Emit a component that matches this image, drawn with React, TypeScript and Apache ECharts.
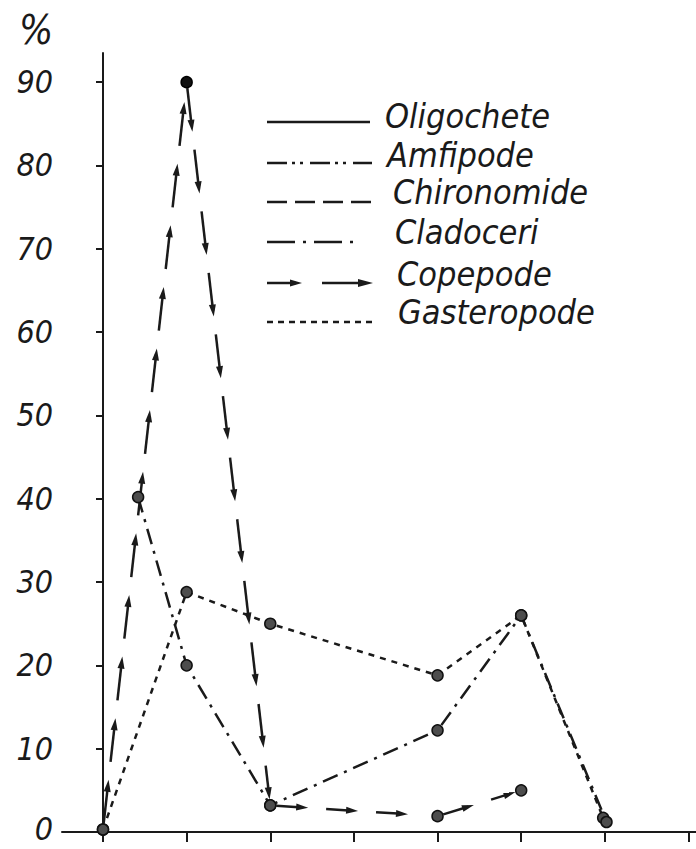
import React, { useEffect, useRef } from "react";
import * as echarts from "echarts";

const yTicks = [0, 10, 20, 30, 40, 50, 60, 70, 80, 90];
const xTicks = [0, 1, 2, 3, 4, 5, 6, 7];
const legendNames = ["Oligochete", "Amfipode", "Chironomide", "Cladoceri", "Copepode", "Gasteropode"];

const copepodeX = [0, 1, 2, 4, 5];
const copepodeY = [0.3, 90, 3.2, 1.9, 5.0];
const gasteropodeX = [0, 1, 2, 4, 5, 5.98];
const gasteropodeY = [0.3, 28.8, 25, 18.8, 26, 1.7];
const cladoceriX = [0.42, 1, 2, 4, 5, 6.02];
const cladoceriY = [40.2, 20, 3.2, 12.2, 26, 1.2];

const FONT = "'DejaVu Sans Condensed', 'Liberation Sans Narrow', 'DejaVu Sans', sans-serif";
const INK = "#1a1a1a";

const pairs = (xs: number[], ys: number[]) => xs.map((x, i) => [x, ys[i]]);

export default function App() {
  const ref = useRef<HTMLDivElement>(null);
  useEffect(() => {
    if (!ref.current) return;
    const chart = echarts.init(ref.current, null, { renderer: "svg" });

    const copData = pairs(copepodeX, copepodeY).map((p) =>
      p[1] === 90 ? { value: p, itemStyle: { color: "#111", borderColor: "#000" } } : { value: p }
    );

    const legendY = [122, 163, 202, 242, 283, 322];
    const legendTextX = [385, 387, 393, 395, 397, 398];
    const legendTextY = [116, 155, 192, 232, 274, 312];
    const legendDash: any[] = [null, [20, 5, 3, 5, 3, 7], [20, 8], [28, 8, 3, 8], null, [6, 5]];
    const legendEnd = [370, 372, 375, 360, 372, 375];

    const graphics: any[] = [
      {
        type: "text",
        x: 36,
        y: 30,
        style: {
          text: "%",
          fill: INK,
          fontSize: 40,
          fontFamily: FONT,
          fontStyle: "italic",
          align: "center",
          verticalAlign: "middle",
        },
      },
    ];
    legendNames.forEach((name, i) => {
      if (name === "Copepode") {
        const y = legendY[i];
        graphics.push({ type: "line", shape: { x1: 267, y1: y, x2: 296, y2: y }, style: { stroke: INK, lineWidth: 2.5 } });
        graphics.push({ type: "polygon", shape: { points: [[302, y], [290, y - 3.5], [290, y + 3.5]] }, style: { fill: INK } });
        graphics.push({ type: "line", shape: { x1: 322, y1: y, x2: 362, y2: y }, style: { stroke: INK, lineWidth: 2.5 } });
        graphics.push({ type: "polygon", shape: { points: [[373, y], [358, y - 4], [358, y + 4]] }, style: { fill: INK } });
      } else {
        graphics.push({
          type: "line",
          shape: { x1: 267, y1: legendY[i], x2: legendEnd[i], y2: legendY[i] },
          style: { stroke: INK, lineWidth: 2.5, lineDash: legendDash[i] || undefined, lineCap: "butt" },
        });
      }
      graphics.push({
        type: "text",
        x: legendTextX[i],
        y: legendTextY[i],
        style: {
          text: name,
          fill: INK,
          fontSize: 34,
          fontFamily: FONT,
          fontStyle: "italic",
          align: "left",
          verticalAlign: "middle",
        },
      });
    });

    const markerStyle = { color: "#4d4d4d", borderColor: "#111", borderWidth: 1.5, opacity: 1 };

    chart.setOption({
      animation: false,
      grid: { left: 62, right: 0, top: 53, bottom: 17, containLabel: false, outerBoundsMode: "none" },
      xAxis: {
        type: "value",
        min: -0.49,
        max: 7.09,
        axisLine: { show: true, lineStyle: { color: INK, width: 2 } },
        axisTick: { show: true, customValues: xTicks, length: 10, lineStyle: { color: INK, width: 2 } },
        axisLabel: { show: false },
        splitLine: { show: false },
      },
      yAxis: {
        type: "value",
        min: 0,
        max: 93.5,
        axisLine: { show: true, lineStyle: { color: INK, width: 2 } },
        axisTick: { show: true, customValues: yTicks, length: 7, lineStyle: { color: INK, width: 2 } },
        axisLabel: {
          show: true,
          customValues: yTicks,
          margin: 9,
          color: INK,
          fontSize: 32,
          lineHeight: 30,
          fontFamily: FONT,
          fontStyle: "italic",
          formatter: (v: number) => (v === 0 ? "{z|0}" : String(v)),
          rich: {
            z: {
              fontSize: 32,
              lineHeight: 26,
              fontFamily: FONT,
              fontStyle: "italic",
              color: INK,
              padding: [0, 0, 6, 0],
            },
          },
        },
        splitLine: { show: false },
      },
      graphic: graphics,
      series: [
        {
          name: "Gasteropode",
          type: "line",
          data: pairs(gasteropodeX, gasteropodeY),
          lineStyle: { color: INK, width: 2.5, type: [6, 6], cap: "butt" },
          symbol: "circle",
          symbolSize: 11,
          itemStyle: markerStyle,
          z: 3,
        },
        {
          name: "Cladoceri",
          type: "line",
          data: pairs(cladoceriX, cladoceriY),
          lineStyle: { color: INK, width: 2.5, type: [16, 7, 3, 7], cap: "butt" },
          symbol: "circle",
          symbolSize: 11,
          itemStyle: markerStyle,
          z: 3,
        },
        {
          name: "Copepode",
          type: "custom",
          data: pairs(copepodeX, copepodeY),
          encode: { x: 0, y: 1 },
          z: 2,
          renderItem: (params: any, api: any) => {
            const i = params.dataIndex;
            if (i === 0) return { type: "group", children: [] };
            const a = api.coord([copepodeX[i - 1], copepodeY[i - 1]]);
            const b = api.coord([copepodeX[i], copepodeY[i]]);
            const dx = b[0] - a[0];
            const dy = b[1] - a[1];
            const L = Math.hypot(dx, dy);
            const ux = dx / L;
            const uy = dy / L;
            const px = -uy;
            const py = ux;
            const dash = L > 300 ? 44 : 32;
            const gap = 18;
            const children: any[] = [];
            let s = 6;
            while (s < L - 6) {
              const e = Math.min(s + dash, L - 6);
              if (e - s < 14) break;
              const x1 = a[0] + ux * s;
              const y1 = a[1] + uy * s;
              const x2 = a[0] + ux * e;
              const y2 = a[1] + uy * e;
              children.push({
                type: "line",
                shape: { x1, y1, x2: x2 - ux * 6, y2: y2 - uy * 6 },
                style: { stroke: INK, lineWidth: 2.5 },
              });
              children.push({
                type: "polygon",
                shape: {
                  points: [
                    [x2, y2],
                    [x2 - ux * 12 + px * 3.5, y2 - uy * 12 + py * 3.5],
                    [x2 - ux * 12 - px * 3.5, y2 - uy * 12 - py * 3.5],
                  ],
                },
                style: { fill: INK },
              });
              s = e + gap;
            }
            return { type: "group", children };
          },
        },
        {
          name: "CopepodePoints",
          type: "scatter",
          data: copData,
          symbol: "circle",
          symbolSize: 11,
          itemStyle: markerStyle,
          z: 4,
        },
      ],
    });
    return () => chart.dispose();
  }, []);
  return <div ref={ref} style={{ position: "absolute", left: 0, top: 0, width: 696, height: 849, background: "#fff" }} />;
}
